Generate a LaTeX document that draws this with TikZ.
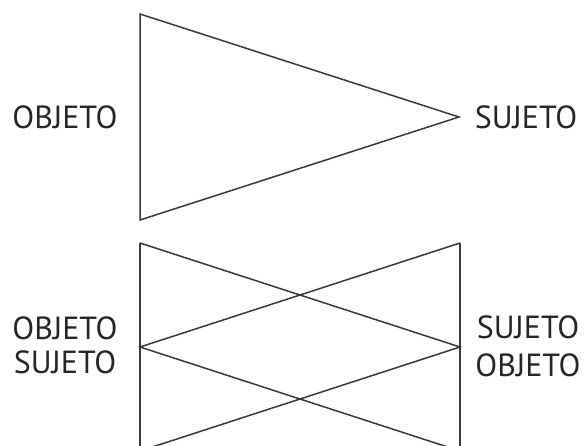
\documentclass[tikz,border=0pt]{standalone}
\usepackage{fontspec}
\setmainfont{PT Sans}
\usepackage{tikz}

\tikzset{
  edge/.style={line width=1.5pt,draw=black!78,line join=miter},
  role/.style={font=\fontsize{32}{34}\selectfont,text=black!85,align=center,inner sep=0pt}
}

\begin{document}
\begin{tikzpicture}[x=1pt,y=-1pt]
  \useasboundingbox (0,0) rectangle (588,445);
  \clip (0,0) rectangle (588,445);
  % one-way relation
  \coordinate (tl) at (140,14);
  \coordinate (bl) at (140,220);
  \coordinate (apex) at (459,117);
  \draw[edge] (bl) -- (tl) -- (apex) -- cycle;
  \node[role] (obj) at (65,117) {OBJETO};
  \node[role] (suj) at (526,117) {SUJETO};
  % crossed relation
  \coordinate (ltop) at (140,243);
  \coordinate (lmid) at (140,347);
  \coordinate (lbot) at (140,451);
  \coordinate (rtop) at (460,243);
  \coordinate (rmid) at (460,347);
  \coordinate (rbot) at (460,451);
  \draw[edge] (ltop) -- (lbot);
  \draw[edge] (rtop) -- (rbot);
  \draw[edge] (ltop) -- (rmid) -- (lbot);
  \draw[edge] (rtop) -- (lmid) -- (rbot);
  \node[role] (objsuj) at (65,345) {OBJETO\\SUJETO};
  \node[role] (sujobj) at (528,346) {SUJETO\\[4pt]OBJETO};
\end{tikzpicture}
\end{document}
